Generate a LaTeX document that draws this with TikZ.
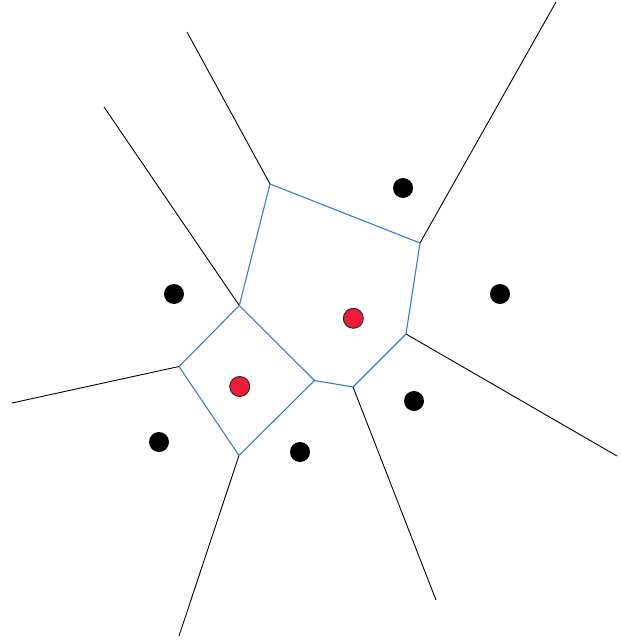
\documentclass[tikz,border=0pt]{standalone}
\definecolor{edgeblue}{RGB}{52,128,200}
\definecolor{sitered}{RGB}{237,28,58}
\begin{document}
\begin{tikzpicture}[x=1pt,y=-1pt,
  ray/.style={black,line width=0.9pt},
  cell/.style={edgeblue,line width=1.1pt,line join=round},
  site/.style={circle,fill=black,inner sep=0pt,minimum size=20pt},
  hub/.style={circle,fill=sitered,draw=black!85,line width=0.9pt,inner sep=0pt,minimum size=20pt}]
\useasboundingbox (0,0) rectangle (620,644);
% Voronoi vertices
\coordinate (A) at (270,184);
\coordinate (B) at (420,243);
\coordinate (C) at (406,334);
\coordinate (D) at (353,387);
\coordinate (E) at (314.5,380.5);
\coordinate (F) at (239.3,305.5);
\coordinate (G) at (179,366.5);
\coordinate (H) at (239,455.5);
% far ends of the unbounded edges
\coordinate (a) at (187,32);
\coordinate (f) at (104,107);
\coordinate (b) at (556,2);
\coordinate (c) at (617,456);
\coordinate (d) at (436,600);
\coordinate (g) at (12,403);
\coordinate (h) at (179,636);
% unbounded edges
\draw[ray] (A) -- (a);
\draw[ray] (F) -- (f);
\draw[ray] (B) -- (b);
\draw[ray] (C) -- (c);
\draw[ray] (D) -- (d);
\draw[ray] (G) -- (g);
\draw[ray] (H) -- (h);
% the two bounded cells
\draw[cell] (A) -- (B) -- (C) -- (D) -- (E) -- (F) -- cycle;
\draw[cell] (F) -- (G) -- (H) -- (E);
% sites
\node[site] (s1) at (403,188) {};
\node[site] (s2) at (174,294) {};
\node[site] (s3) at (500,294) {};
\node[site] (s4) at (414,401) {};
\node[site] (s5) at (159,442) {};
\node[site] (s6) at (300,452) {};
\node[hub] (r1) at (353.3,318.3) {};
\node[hub] (r2) at (239.7,386.5) {};
\end{tikzpicture}
\end{document}
